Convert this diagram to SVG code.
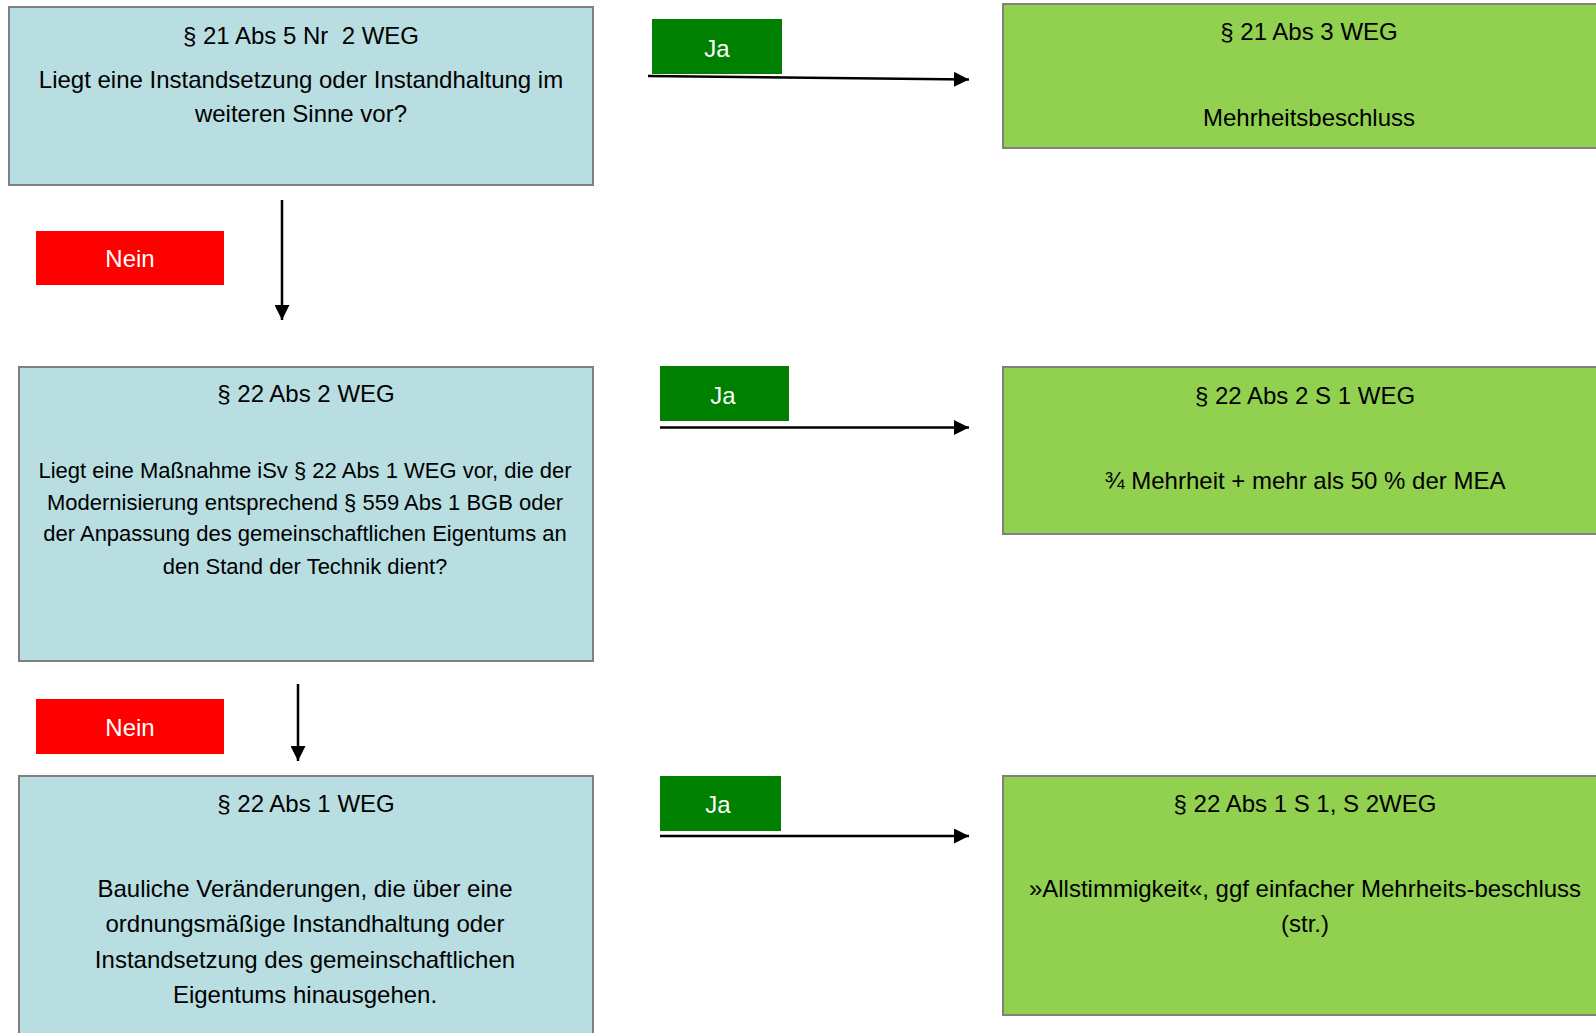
<svg xmlns="http://www.w3.org/2000/svg" width="1596" height="1033" viewBox="0 0 1596 1033">
<style>
.q{fill:#B8DEE1;stroke:#808080;stroke-width:2}
.r{fill:#92D050;stroke:#808080;stroke-width:2}
.ja{fill:#008000}
.nein{fill:#FF0000}
text{font-family:"Liberation Sans",Arial,sans-serif;text-anchor:middle;white-space:pre}
.t{font-size:24px;fill:#000}
.s{font-size:22px;fill:#000}
.w{font-size:24px;fill:#fff}
.c{stroke:#000;stroke-width:2.5;fill:none}
</style>
<defs>
<marker id="ah" markerWidth="6" markerHeight="6" refX="6" refY="3" orient="auto" markerUnits="strokeWidth">
<path d="M0,0 L6,3 L0,6 Z" fill="#000"/>
</marker>
</defs>
<rect width="1596" height="1033" fill="#fff"/>

<g id="q1">
<rect class="q" x="9" y="7" width="584" height="178"/>
<text class="t" x="301" y="44">§ 21 Abs 5 Nr  2 WEG</text>
<text class="t" x="301" y="87.5">Liegt eine Instandsetzung oder Instandhaltung im</text>
<text class="t" x="301" y="122">weiteren Sinne vor?</text>
</g>

<g id="r1">
<rect class="r" x="1003" y="4" width="620" height="144"/>
<text class="t" x="1309" y="40">§ 21 Abs 3 WEG</text>
<text class="t" x="1309" y="125.5">Mehrheitsbeschluss</text>
</g>

<g id="ja1">
<rect class="ja" x="652" y="19" width="130" height="55"/>
<text class="w" x="717" y="56.5">Ja</text>
</g>

<g id="nein1">
<rect class="nein" x="36" y="231" width="188" height="54"/>
<text class="w" x="130" y="267">Nein</text>
</g>

<g id="q2">
<rect class="q" x="19" y="367" width="574" height="294"/>
<text class="t" x="306" y="401.5">§ 22 Abs 2 WEG</text>
<text class="s" x="305" y="478">Liegt eine Maßnahme iSv § 22 Abs 1 WEG vor, die der</text>
<text class="s" x="305" y="509.5">Modernisierung entsprechend § 559 Abs 1 BGB oder</text>
<text class="s" x="305" y="541">der Anpassung des gemeinschaftlichen Eigentums an</text>
<text class="s" x="305" y="573.5">den Stand der Technik dient?</text>
</g>

<g id="ja2">
<rect class="ja" x="660" y="366" width="129" height="55"/>
<text class="w" x="723" y="403.5">Ja</text>
</g>

<g id="r2">
<rect class="r" x="1003" y="367" width="620" height="167"/>
<text class="t" x="1305" y="403.5">§ 22 Abs 2 S 1 WEG</text>
<text class="t" x="1305" y="489">¾ Mehrheit + mehr als 50 % der MEA</text>
</g>

<g id="nein2">
<rect class="nein" x="36" y="699" width="188" height="55"/>
<text class="w" x="130" y="736">Nein</text>
</g>

<g id="q3">
<rect class="q" x="19" y="776" width="574" height="270"/>
<text class="t" x="306" y="811.5">§ 22 Abs 1 WEG</text>
<text class="t" x="305" y="897">Bauliche Veränderungen, die über eine</text>
<text class="t" x="305" y="932">ordnungsmäßige Instandhaltung oder</text>
<text class="t" x="305" y="967.5">Instandsetzung des gemeinschaftlichen</text>
<text class="t" x="305" y="1003">Eigentums hinausgehen.</text>
</g>

<g id="ja3">
<rect class="ja" x="660" y="776" width="121" height="55"/>
<text class="w" x="718" y="812.5">Ja</text>
</g>

<g id="r3">
<rect class="r" x="1003" y="776" width="620" height="239"/>
<text class="t" x="1305" y="811.5">§ 22 Abs 1 S 1, S 2WEG</text>
<text class="t" x="1305" y="897">»Allstimmigkeit«, ggf einfacher Mehrheits-beschluss</text>
<text class="t" x="1305" y="931.5">(str.)</text>
</g>

<g id="connectors">
<line class="c" x1="648" y1="76" x2="969" y2="79.5" marker-end="url(#ah)"/>
<line class="c" x1="282" y1="200" x2="282" y2="320" marker-end="url(#ah)"/>
<line class="c" x1="660" y1="427.5" x2="969" y2="427.5" marker-end="url(#ah)"/>
<line class="c" x1="298" y1="684" x2="298" y2="761" marker-end="url(#ah)"/>
<line class="c" x1="660" y1="836" x2="969" y2="836" marker-end="url(#ah)"/>
</g>
</svg>
